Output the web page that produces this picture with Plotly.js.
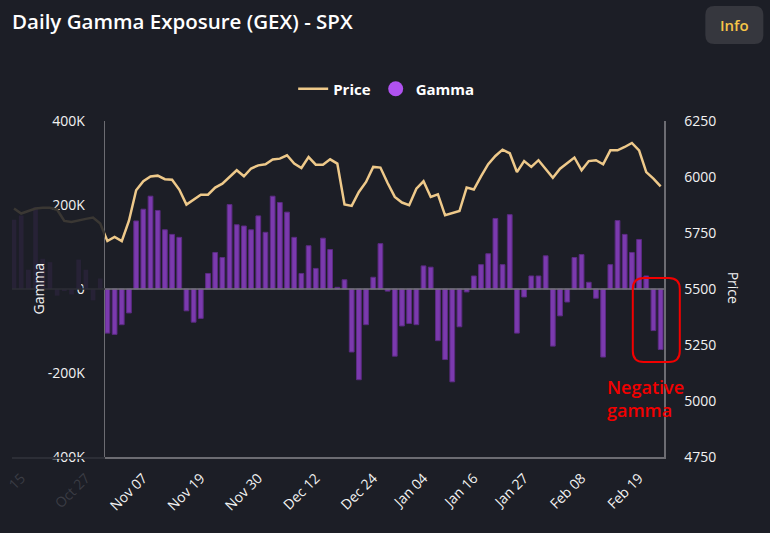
<!DOCTYPE html>
<html>
<head>
<meta charset="utf-8">
<script src="https://cdn.plot.ly/plotly-3.0.1.min.js"></script>
<style>
  html, body { margin: 0; padding: 0; background: #1c1e26; }
  #chart { width: 770px; height: 533px; }
</style>
</head>
<body>
<div id="chart"></div>
<script>
// ---- Data ----
// Earlier days, scrolled out of the main view (drawn faded)
const fadedDates = ['Oct 14','Oct 15','Oct 16','Oct 17','Oct 18','Oct 21','Oct 22','Oct 23','Oct 24','Oct 25','Oct 27','Oct 29','Oct 30'];
const fadedGamma = [165000, 175000, 46000, 195000, 72000, 64000, -16000, -5000, -13000, 70000, 46000, -27000, 25000];
const fadedPrice = [5859, 5837, 5848, 5859, 5863, 5863, 5854, 5804, 5799, 5807, 5813, 5819, 5792];

// Visible days
const dates = ['Oct 31','Nov 01','Nov 04','Nov 05','Nov 06','Nov 07','Nov 08','Nov 11','Nov 12','Nov 13',
  'Nov 14','Nov 15','Nov 18','Nov 19','Nov 20','Nov 21','Nov 22','Nov 25','Nov 26','Nov 27',
  'Nov 29','Nov 30','Dec 02','Dec 03','Dec 04','Dec 05','Dec 06','Dec 09','Dec 11','Dec 12',
  'Dec 13','Dec 16','Dec 17','Dec 18','Dec 19','Dec 20','Dec 23','Dec 24','Dec 26','Dec 27',
  'Dec 30','Dec 31','Jan 02','Jan 03','Jan 04','Jan 06','Jan 07','Jan 08','Jan 10','Jan 13',
  'Jan 15','Jan 16','Jan 17','Jan 21','Jan 22','Jan 23','Jan 24','Jan 26','Jan 27','Jan 29',
  'Jan 30','Jan 31','Feb 03','Feb 04','Feb 05','Feb 07','Feb 08','Feb 10','Feb 11','Feb 12',
  'Feb 13','Feb 14','Feb 17','Feb 18','Feb 19','Feb 20','Feb 21','Feb 24'];

const gamma = [-105000,-108000,-85000,-57000,162000,190000,221000,187000,141000,130000,
  123000,-52000,-79000,-70000,37000,87000,75000,201000,153000,150000,
  141000,174000,135000,221000,206000,183000,123000,37000,103000,49000,
  121000,94000,4000,22000,-150000,-216000,-85000,28000,108000,-5000,
  -160000,-88000,-82000,-85000,55000,52000,-123000,-168000,-221000,-90000,
  -7000,31000,58000,84000,168000,58000,177000,-105000,-19000,31000,
  31000,79000,-136000,-64000,-31000,75000,82000,16000,-22000,-162000,
  58000,163000,130000,87000,118000,31000,-99000,-144000];

const price = [5714,5732,5714,5805,5941,5981,6002,6006,5990,5988,
  5944,5877,5899,5921,5921,5953,5970,6000,6030,6003,
  6038,6052,6057,6078,6082,6097,6060,6040,6089,6055,
  6055,6079,6060,5877,5871,5933,5978,6045,6042,5973,
  5911,5886,5874,5948,5981,5911,5923,5829,5839,5848,
  5953,5944,6003,6057,6094,6122,6106,6022,6071,6045,
  6075,6037,5997,6037,6060,6087,6030,6071,6075,6057,
  6119,6119,6134,6152,6119,6022,5993,5958];

const xTickDates = ['Nov 07','Nov 19','Nov 30','Dec 12','Dec 24','Jan 04','Jan 16','Jan 27','Feb 08','Feb 19'];
const fadedTickDates = ['Oct 15','Oct 27'];
const fadedTickText = ['15','Oct 27'];
const gammaTicks = [-400000,-200000,0,200000,400000];
const gammaTickText = ['-400K','-200K','0','200K','400K'];
const priceTicks = [4750,5000,5250,5500,5750,6000,6250];

// ---- Geometry / style ----
const W = 770, H = 533;
const M = {l: 12, r: 106.3, t: 121, b: 76};
const PW = W - M.l - M.r, PH = H - M.t - M.b;
const px = x => (x - M.l) / PW;
const py = y => (H - M.b - y) / PH;
const split = px(105);

const allDates = fadedDates.concat(dates);
const allGamma = fadedGamma.concat(gamma);
const allPrice = fadedPrice.concat(price);
const nFaded = fadedDates.length;

function rrect(x0, y0, x1, y1, r) {
  const P = (x, y) => px(x).toFixed(5) + ',' + py(y).toFixed(5);
  return 'M' + P(x0 + r, y0) + ' L' + P(x1 - r, y0) + ' Q' + P(x1, y0) + ' ' + P(x1, y0 + r) +
    ' L' + P(x1, y1 - r) + ' Q' + P(x1, y1) + ' ' + P(x1 - r, y1) +
    ' L' + P(x0 + r, y1) + ' Q' + P(x0, y1) + ' ' + P(x0, y1 - r) +
    ' L' + P(x0, y0 + r) + ' Q' + P(x0, y0) + ' ' + P(x0 + r, y0) + ' Z';
}

const FONT = 'Open Sans, Noto Sans, sans-serif';
const BG = '#1c1e26';
const AXIS = '#6c6c72';
const FADE_AXIS = '#2c2e36';
const RED = '#f20000';

const traces = [
  // faded (scrolled-out) part
  {type: 'bar', x: allDates, y: allGamma, xaxis: 'x2', yaxis: 'y', width: 0.66,
   marker: {color: '#272236', line: {width: 0}}, showlegend: false, hoverinfo: 'skip'},
  {type: 'scatter', mode: 'lines', x: allDates, y: allPrice, xaxis: 'x2', yaxis: 'y2',
   line: {color: '#3a3733', width: 2.5}, showlegend: false, hoverinfo: 'skip'},
  // main view
  {type: 'bar', name: 'Gamma', x: allDates, y: allGamma, xaxis: 'x', yaxis: 'y', width: 0.66,
   marker: {color: '#7b3aae', line: {color: '#5b2b82', width: 1}}, showlegend: false},
  {type: 'scatter', mode: 'lines', name: 'Price', x: allDates, y: allPrice, xaxis: 'x', yaxis: 'y2',
   line: {color: '#eec98a', width: 2.5}},
  // legend marker for Gamma (no data)
  {type: 'scatter', mode: 'markers', name: 'Gamma', x: [null], y: [null], xaxis: 'x', yaxis: 'y',
   marker: {color: '#b052f0', size: 15, symbol: 'circle'}}
];

const tickFont = {family: FONT, size: 14, color: '#f2f2f2', weight: 500};

const layout = {
  width: W, height: H,
  paper_bgcolor: BG, plot_bgcolor: BG,
  margin: M,
  hovermode: false, dragmode: false,
  title: {text: 'Daily Gamma Exposure (GEX) - SPX', xref: 'container', yref: 'container',
    x: 12 / W, xanchor: 'left', y: 1 - 22 / H, yanchor: 'middle',
    font: {family: FONT, size: 20.5, color: '#ffffff', weight: 600}},
  showlegend: true,
  legend: {orientation: 'h', x: px(386), xanchor: 'center', y: py(89), yanchor: 'middle',
    font: {family: FONT, size: 15, color: '#ffffff', weight: 700}, bgcolor: 'rgba(0,0,0,0)',
    itemwidth: 30, traceorder: 'normal'},
  xaxis: {type: 'category', categoryorder: 'array', categoryarray: allDates,
    domain: [split, 1], range: [nFaded - 0.33, nFaded + 77.47], anchor: 'y',
    tickmode: 'array', tickvals: xTickDates, tickangle: -45, tickfont: tickFont,
    ticks: 'outside', ticklen: 6, tickcolor: 'rgba(0,0,0,0)',
    showline: true, linecolor: AXIS, linewidth: 1.5, showgrid: false, zeroline: false, fixedrange: true},
  xaxis2: {type: 'category', categoryorder: 'array', categoryarray: allDates,
    domain: [0, split], range: [-0.28, nFaded - 0.33], anchor: 'y',
    tickmode: 'array', tickvals: fadedTickDates, ticktext: fadedTickText, tickangle: -45,
    tickfont: {family: FONT, size: 14, color: '#3a3c44', weight: 500},
    ticks: 'outside', ticklen: 6, tickcolor: 'rgba(0,0,0,0)',
    showline: true, linecolor: FADE_AXIS, linewidth: 1.5, showgrid: false, zeroline: false, fixedrange: true},
  yaxis: {range: [-400000, 400000], anchor: 'x', tickmode: 'array', tickvals: gammaTicks, ticktext: gammaTickText,
    tickfont: tickFont, ticks: 'outside', ticklen: 16, tickcolor: 'rgba(0,0,0,0)',
    showline: true, linecolor: AXIS, linewidth: 1.5, showgrid: false, zeroline: false, fixedrange: true},
  yaxis2: {range: [4750, 6250], overlaying: 'y', side: 'right', anchor: 'x',
    tickmode: 'array', tickvals: priceTicks, tickfont: tickFont,
    ticks: 'outside', ticklen: 16, tickcolor: 'rgba(0,0,0,0)',
    showline: true, linecolor: AXIS, linewidth: 1.5, showgrid: false, zeroline: false, fixedrange: true},
  shapes: [
    {type: 'line', xref: 'x domain', yref: 'y', x0: 0, x1: 1, y0: 0, y1: 0, layer: 'above',
     line: {color: '#76767c', width: 1.5}},
    {type: 'line', xref: 'x2 domain', yref: 'y', x0: 0, x1: 1, y0: 0, y1: 0, layer: 'above',
     line: {color: FADE_AXIS, width: 1.5}},
    {type: 'path', xref: 'paper', yref: 'paper', path: rrect(632.5, 278, 679.5, 362, 11),
     line: {color: RED, width: 2}, fillcolor: 'rgba(0,0,0,0)', layer: 'above'},
    {type: 'path', xref: 'paper', yref: 'paper', path: rrect(705, 6, 763, 44, 9),
     line: {width: 0}, fillcolor: '#36373e', layer: 'above'}
  ],
  annotations: [
    {text: 'Gamma', xref: 'paper', yref: 'paper', x: px(37.5), y: py(289), textangle: -90,
     showarrow: false, xanchor: 'center', yanchor: 'middle',
     font: {family: FONT, size: 14, color: '#f2f2f2', weight: 500}},
    {text: 'Price', xref: 'paper', yref: 'paper', x: px(734), y: py(288), textangle: 90,
     showarrow: false, xanchor: 'center', yanchor: 'middle',
     font: {family: FONT, size: 14, color: '#f2f2f2', weight: 500}},
    {text: 'Negative<br>gamma', xref: 'paper', yref: 'paper', x: px(605), y: py(398),
     showarrow: false, xanchor: 'left', yanchor: 'middle', align: 'left',
     font: {family: FONT, size: 18, color: RED, weight: 600}},
    {text: 'Info', xref: 'paper', yref: 'paper', x: px(734), y: py(25),
     showarrow: false, xanchor: 'center', yanchor: 'middle',
     font: {family: FONT, size: 15, color: '#f7c548', weight: 600}}
  ]
};

Plotly.newPlot('chart', traces, layout, {displayModeBar: false, staticPlot: true});
</script>
</body>
</html>
